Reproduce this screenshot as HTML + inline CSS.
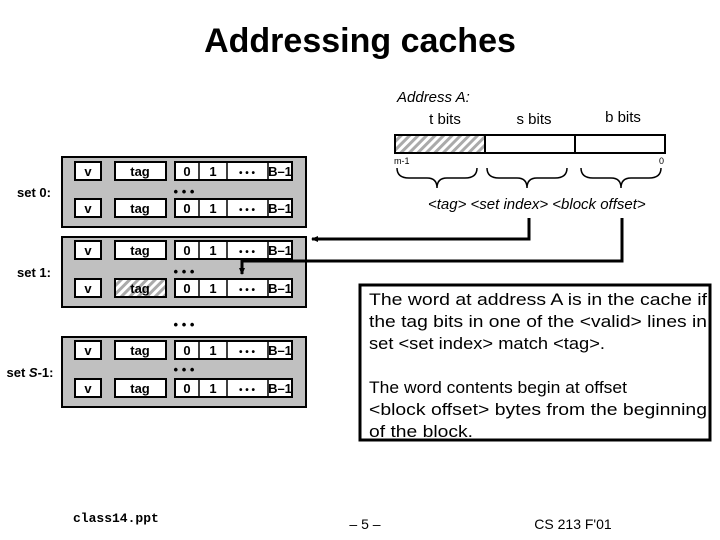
<!DOCTYPE html>
<html><head><meta charset="utf-8"><style>
body{margin:0;background:#fff;}
svg{display:block;font-family:"Liberation Sans",Arial,sans-serif;}
</style></head><body>
<svg width="720" height="540" viewBox="0 0 720 540">
<defs>
<pattern id="h" patternUnits="userSpaceOnUse" width="6" height="6" patternTransform="rotate(45)">
<rect width="6" height="6" fill="#fff"/><rect width="3" height="6" fill="#aaa"/></pattern>
<marker id="a" markerWidth="8" markerHeight="8" refX="6" refY="4" orient="auto" markerUnits="userSpaceOnUse"><path d="M0,1 L7,4 L0,7z" fill="#000"/></marker>
</defs>
<text x="360" y="52" font-size="34" font-weight="bold" text-anchor="middle">Addressing caches</text>

<g id="sets" stroke="#000" stroke-width="2">
<rect x="62" y="157" width="244" height="70" fill="#c0c0c0"/>
<rect x="62" y="237" width="244" height="70" fill="#c0c0c0"/>
<rect x="62" y="337" width="244" height="70" fill="#c0c0c0"/>
</g>
<g font-size="13" font-weight="bold" text-anchor="middle">
<text x="34" y="197">set 0:</text>
<text x="34" y="277">set 1:</text>
<text x="30" y="377">set <tspan font-style="italic">S</tspan>-1:</text>
<text x="184" y="196">• • •</text>
<text x="184" y="276">• • •</text>
<text x="184" y="329">• • •</text>
<text x="184" y="374">• • •</text>
</g>
<g stroke="#000" stroke-width="2" fill="#fff">
<rect x="75" y="162" width="26" height="18"/><rect x="115" y="162" width="51" height="18"/><rect x="175" y="162" width="117" height="18"/>
<rect x="75" y="199" width="26" height="18"/><rect x="115" y="199" width="51" height="18"/><rect x="175" y="199" width="117" height="18"/>
<rect x="75" y="241" width="26" height="18"/><rect x="115" y="241" width="51" height="18"/><rect x="175" y="241" width="117" height="18"/>
<rect x="75" y="279" width="26" height="18"/><rect x="115" y="279" width="51" height="18" fill="url(#h)"/><rect x="175" y="279" width="117" height="18"/>
<rect x="75" y="341" width="26" height="18"/><rect x="115" y="341" width="51" height="18"/><rect x="175" y="341" width="117" height="18"/>
<rect x="75" y="379" width="26" height="18"/><rect x="115" y="379" width="51" height="18"/><rect x="175" y="379" width="117" height="18"/>
</g>
<g stroke="#000" stroke-width="1.5">
<path d="M199,162v18M227,162v18M268,162v18 M199,199v18M227,199v18M268,199v18 M199,241v18M227,241v18M268,241v18 M199,279v18M227,279v18M268,279v18 M199,341v18M227,341v18M268,341v18 M199,379v18M227,379v18M268,379v18"/>
</g>
<g font-size="13" text-anchor="middle" font-weight="bold">
<g transform="translate(0,176)"><text x="88">v</text><text x="140">tag</text><text x="187">0</text><text x="213">1</text><text x="247" font-size="10">• • •</text><text x="280">B–1</text></g>
<g transform="translate(0,213)"><text x="88">v</text><text x="140">tag</text><text x="187">0</text><text x="213">1</text><text x="247" font-size="10">• • •</text><text x="280">B–1</text></g>
<g transform="translate(0,255)"><text x="88">v</text><text x="140">tag</text><text x="187">0</text><text x="213">1</text><text x="247" font-size="10">• • •</text><text x="280">B–1</text></g>
<g transform="translate(0,293)"><text x="88">v</text><text x="140">tag</text><text x="187">0</text><text x="213">1</text><text x="247" font-size="10">• • •</text><text x="280">B–1</text></g>
<g transform="translate(0,355)"><text x="88">v</text><text x="140">tag</text><text x="187">0</text><text x="213">1</text><text x="247" font-size="10">• • •</text><text x="280">B–1</text></g>
<g transform="translate(0,393)"><text x="88">v</text><text x="140">tag</text><text x="187">0</text><text x="213">1</text><text x="247" font-size="10">• • •</text><text x="280">B–1</text></g>
</g>

<text x="397" y="102" font-size="15" font-style="italic">Address A:</text>
<g font-size="15" text-anchor="middle"><text x="445" y="124">t bits</text><text x="534" y="124">s bits</text><text x="623" y="122">b bits</text></g>
<rect x="395" y="135" width="90" height="18" fill="url(#h)" stroke="#000" stroke-width="2"/>
<rect x="485" y="135" width="90" height="18" fill="#fff" stroke="#000" stroke-width="2"/>
<rect x="575" y="135" width="90" height="18" fill="#fff" stroke="#000" stroke-width="2"/>
<text x="394" y="164" font-size="9">m-1</text><text x="664" y="164" font-size="9" text-anchor="end">0</text>
<g fill="none" stroke="#000" stroke-width="1.5">
<path d="M397,168 q0,10 12,10 h18 q10,0 10,10 q0,-10 10,-10 h18 q12,0 12,-10"/>
<path d="M487,168 q0,10 12,10 h18 q10,0 10,10 q0,-10 10,-10 h18 q12,0 12,-10"/>
<path d="M581,168 q0,10 12,10 h18 q10,0 10,10 q0,-10 10,-10 h18 q12,0 12,-10"/>
</g>
<text x="428" y="209" font-size="15" font-style="italic">&lt;tag&gt;  &lt;set index&gt;  &lt;block offset&gt;</text>
<g fill="none" stroke="#000" stroke-width="3">
<path d="M529,218 V239 H312" marker-end="url(#a)"/>
<path d="M622,218 V261 H242 V274" marker-end="url(#a)"/>
</g>

<rect x="360" y="285" width="350" height="155" fill="#fff" stroke="#000" stroke-width="3"/>
<g font-size="17" lengthAdjust="spacingAndGlyphs"><text x="369" y="305" textLength="338" lengthAdjust="spacingAndGlyphs">The word at address A is in the cache if</text>
<text x="369" y="327" textLength="338" lengthAdjust="spacingAndGlyphs">the tag bits in one of the &lt;valid&gt; lines in</text>
<text x="369" y="349" textLength="236" lengthAdjust="spacingAndGlyphs">set &lt;set index&gt; match &lt;tag&gt;.</text>
<text x="369" y="393" textLength="258" lengthAdjust="spacingAndGlyphs">The word contents begin at offset</text>
<text x="369" y="415" textLength="338" lengthAdjust="spacingAndGlyphs">&lt;block offset&gt; bytes from the beginning</text>
<text x="369" y="437" textLength="104" lengthAdjust="spacingAndGlyphs">of the block.</text></g>

<text x="73" y="522" font-size="13" font-family="Liberation Mono,monospace" font-weight="bold">class14.ppt</text>
<text x="365" y="529" font-size="14" text-anchor="middle">– 5 –</text>
<text x="573" y="529" font-size="14" text-anchor="middle">CS 213 F'01</text>
</svg>
</body></html>
